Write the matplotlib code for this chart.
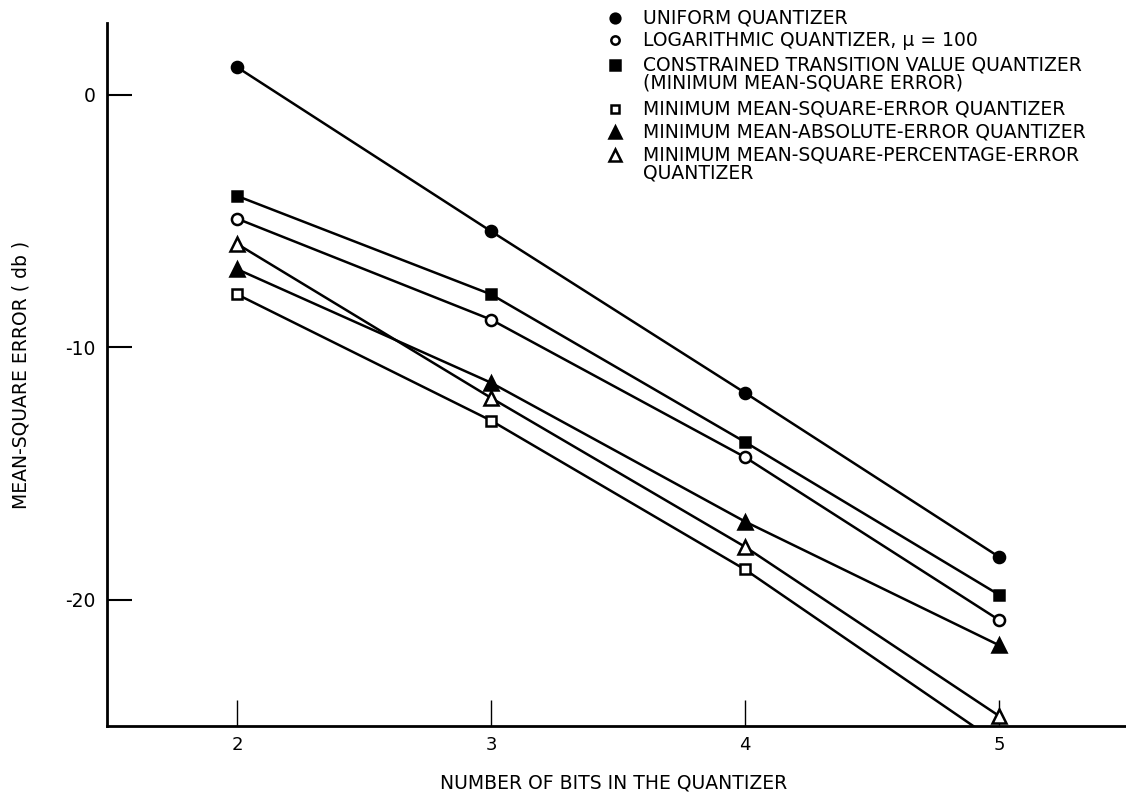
import numpy as np
import matplotlib
matplotlib.use('Agg')
import matplotlib.pyplot as plt
from matplotlib.lines import Line2D

plt.rcParams['font.family'] = ['DejaVu Sans']

# number of bits
bits = [2, 3, 4, 5]

# mean-square error in db
uniform = [1.1, -5.4, -11.8, -18.3]
logarithmic = [-4.9, -8.9, -14.35, -20.8]
constrained = [-4.0, -7.9, -13.75, -19.8]
min_mse = [-7.9, -12.9, -18.8, -25.7]
min_mae = [-6.9, -11.4, -16.9, -21.8]
min_mspe = [-5.9, -12.0, -17.9, -24.6]

labels = [
    'UNIFORM QUANTIZER',
    'LOGARITHMIC QUANTIZER, \u03bc = 100',
    'CONSTRAINED TRANSITION VALUE QUANTIZER\n(MINIMUM MEAN-SQUARE ERROR)',
    'MINIMUM MEAN-SQUARE-ERROR QUANTIZER',
    'MINIMUM MEAN-ABSOLUTE-ERROR QUANTIZER',
    'MINIMUM MEAN-SQUARE-PERCENTAGE-ERROR\nQUANTIZER',
]
series = [uniform, logarithmic, constrained, min_mse, min_mae, min_mspe]

# marker, fill, size in plot, size in key
styles = [
    ('o', 'black', 8, 7),
    ('o', 'white', 8, 6),
    ('s', 'black', 7.5, 6.5),
    ('s', 'white', 7.5, 5.5),
    ('^', 'black', 10, 9),
    ('^', 'white', 10, 9),
]

fig = plt.figure(figsize=(11.26, 7.93), dpi=100)
ax = fig.add_axes([0.095, 0.0845, 0.905, 0.8865])

for vals, (m, fc, ms, _) in zip(series, styles):
    ax.plot(bits, vals, color='black', lw=1.8, marker=m, ms=ms,
            mfc=fc, mec='black', mew=1.8, zorder=3)

ax.set_xlim(1.488, 5.5)
ax.set_ylim(-25, 2.85)
ax.set_xticks(bits)
ax.set_yticks([0, -10, -20])
ax.set_yticklabels(['0', '-10', '-20'])

for side in ['top', 'right']:
    ax.spines[side].set_visible(False)
for side in ['left', 'bottom']:
    ax.spines[side].set_linewidth(2)

ax.tick_params(axis='x', direction='in', length=19, width=1, labelsize=13, pad=7)
ax.tick_params(axis='y', direction='in', length=18, width=1.5, labelsize=13.5, pad=8)

ax.set_xlabel('NUMBER OF BITS IN THE QUANTIZER', fontsize=13.5, va='center')
ax.set_ylabel('MEAN-SQUARE ERROR ( db )', fontsize=13.5)
ax.xaxis.set_label_coords(0.497, -0.081)
ax.yaxis.set_label_coords(-0.075, 0.5)

# key in the upper right corner
row_y = [0.977, 0.949, 0.918, 0.863, 0.833, 0.804]
for lab, (m, fc, _, ks), yy in zip(labels, styles, row_y):
    fig.add_artist(Line2D([0.546], [yy], marker=m, ms=ks, mfc=fc, mec='black',
                          mew=1.8, linestyle='none', transform=fig.transFigure))
    fig.text(0.571, yy + 0.012, lab, fontsize=13.5, va='top', ha='left',
             linespacing=0.9, transform=fig.transFigure)

fig.savefig('out.png', dpi=100)
